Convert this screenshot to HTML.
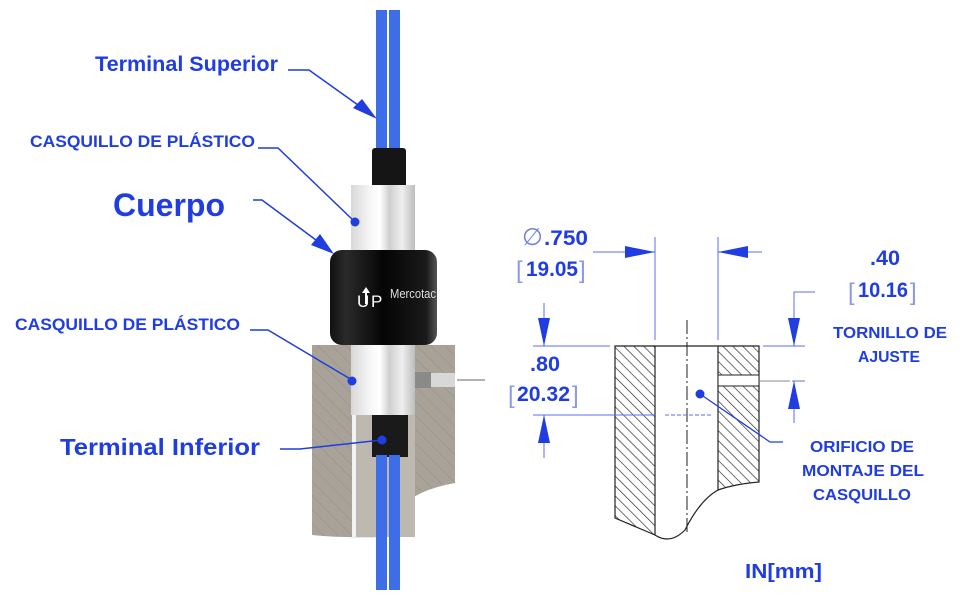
<!DOCTYPE html>
<html><head><meta charset="utf-8"><style>
html,body{margin:0;padding:0;background:#fff;}
svg{display:block;}
text{font-family:"Liberation Sans",sans-serif;font-weight:bold;fill:#1f3de0;}
</style></head><body>
<svg width="976" height="611" viewBox="0 0 976 611" xmlns="http://www.w3.org/2000/svg">
<defs>
<pattern id="h" width="7" height="7" patternUnits="userSpaceOnUse" patternTransform="rotate(-45)">
<rect width="7" height="7" fill="#fff"/><line x1="0" y1="0" x2="0" y2="7" stroke="#222" stroke-width="1.3"/></pattern>
<pattern id="g" width="10" height="10" patternUnits="userSpaceOnUse" patternTransform="rotate(-45)">
<rect width="10" height="10" fill="#a8a298"/><line x1="0" y1="0" x2="0" y2="10" stroke="#948e84" stroke-width="1"/></pattern>
<linearGradient id="silver" x1="0" x2="1">
<stop offset="0" stop-color="#d8d8d8"/><stop offset="0.3" stop-color="#f6f6f6"/><stop offset="0.45" stop-color="#fff"/><stop offset="0.6" stop-color="#cfcfcf"/><stop offset="0.8" stop-color="#eee"/><stop offset="1" stop-color="#bdbdbd"/></linearGradient>
<linearGradient id="blk" x1="0" x2="1">
<stop offset="0" stop-color="#111"/><stop offset="0.15" stop-color="#2a2a2a"/><stop offset="0.5" stop-color="#050505"/><stop offset="0.9" stop-color="#1a1a1a"/><stop offset="1" stop-color="#555"/></linearGradient>
</defs>

<rect x="376" y="10" width="11" height="140" fill="#3d6ee8"/>
<rect x="389" y="10" width="11" height="140" fill="#3d6ee8"/>
<rect x="372" y="148" width="34" height="40" rx="3" fill="#151515"/>
<rect x="351" y="185" width="64" height="70" fill="url(#silver)"/>
<rect x="330" y="250" width="107" height="95" rx="12" fill="url(#blk)"/>
<text x="357" y="307" style="fill:#fff;font-weight:normal;font-size:17px">U</text>
<text x="371" y="307" style="fill:#fff;font-weight:normal;font-size:17px">P</text>
<polygon points="366,287 362,293 370,293" fill="#fff"/>
<rect x="365" y="292" width="2" height="12" fill="#fff"/>
<text x="390" y="298" style="fill:#ddd;font-weight:normal;font-size:13px" textLength="46" lengthAdjust="spacingAndGlyphs">Mercotac</text>
<path d="M312,345 L455,345 L455,483 Q415,490 398,510 L385,537 Q340,538 312,535 Z" fill="url(#g)"/>
<rect x="352" y="415" width="63" height="122" fill="#bdb8b0"/>
<rect x="352" y="415" width="4" height="122" fill="#f3f3f3"/>
<rect x="351" y="345" width="64" height="70" fill="url(#silver)"/>
<rect x="415" y="373" width="40" height="14" fill="#d8d8d8"/>
<rect x="415" y="372" width="16" height="16" fill="#8a8a8a"/>
<line x1="457" y1="380" x2="485" y2="380" stroke="#999" stroke-width="1.5"/>
<rect x="372" y="415" width="36" height="42" fill="#1a1a1a"/>
<rect x="376" y="455" width="11" height="135" fill="#3d6ee8"/>
<rect x="389" y="455" width="11" height="135" fill="#3d6ee8"/>

<g lengthAdjust="spacingAndGlyphs">
<text x="95" y="71" font-size="21" textLength="183" lengthAdjust="spacingAndGlyphs">Terminal Superior</text>
<text x="30" y="147" font-size="17" textLength="225" lengthAdjust="spacingAndGlyphs">CASQUILLO DE PLÁSTICO</text>
<text x="113" y="216" font-size="32" textLength="112" lengthAdjust="spacingAndGlyphs">Cuerpo</text>
<text x="15" y="330" font-size="17" textLength="225" lengthAdjust="spacingAndGlyphs">CASQUILLO DE PLÁSTICO</text>
<text x="60" y="455" font-size="23" textLength="200" lengthAdjust="spacingAndGlyphs">Terminal Inferior</text>
</g>

<g stroke="#1f3de0" stroke-width="1.5" fill="none">
<polyline points="288,70 309,70 365,110"/>
<polyline points="258,148 278,148 355,222"/>
<polyline points="253,200 262,200 320,243"/>
<polyline points="250,330 268,330 352,380"/>
<polyline points="280,449 300,449 382,440"/>
</g>
<polygon points="377,119 353,108 362,99" fill="#1f3de0"/>
<polygon points="334,254 311,245 320,234" fill="#1f3de0"/>
<circle cx="355" cy="222" r="4.5" fill="#1f3de0"/>
<circle cx="352" cy="381" r="4.5" fill="#1f3de0"/>
<circle cx="382" cy="440" r="4.5" fill="#1f3de0"/>

<path d="M615,346 L655,346 L655,535 L615,518 Z" fill="url(#h)" stroke="#222" stroke-width="1.2"/>
<path d="M718,346 L759,346 L759,482 Q735,484 718,490 Z" fill="url(#h)" stroke="#222" stroke-width="1.2"/>
<rect x="718" y="375" width="41" height="11" fill="#fff" stroke="#222" stroke-width="1"/>
<line x1="655" y1="346" x2="718" y2="346" stroke="#222" stroke-width="1.2"/>
<path d="M655,535 Q670,545 685,530 Q700,500 718,490" fill="none" stroke="#222" stroke-width="1.2"/>
<line x1="687" y1="320" x2="687" y2="535" stroke="#222" stroke-width="1" stroke-dasharray="14,3,2,3"/>
<line x1="759" y1="381" x2="790" y2="381" stroke="#888" stroke-width="1"/>

<g stroke="#5a6ef0" stroke-width="1" fill="none">
<line x1="655" y1="237" x2="655" y2="340"/>
<line x1="718" y1="237" x2="718" y2="340"/>
<line x1="593" y1="252" x2="655" y2="252"/>
<line x1="718" y1="252" x2="762" y2="252"/>
<line x1="533" y1="346" x2="610" y2="346"/>
<line x1="533" y1="415" x2="655" y2="415"/>
<line x1="665" y1="415" x2="713" y2="415" stroke-dasharray="4,2"/>
<line x1="544" y1="303" x2="544" y2="346"/>
<line x1="544" y1="415" x2="544" y2="458"/>
<polyline points="815,292 794,292 794,346"/>
<line x1="763" y1="346" x2="805" y2="346"/>
<line x1="794" y1="381" x2="794" y2="423"/>
<line x1="792" y1="381" x2="805" y2="381"/>
<polyline points="700,394 770,442 783,442" stroke="#1f3de0" stroke-width="1.3"/>
</g>
<g fill="#1f3de0">
<polygon points="655,252 625,246 625,258"/>
<polygon points="718,252 748,246 748,258"/>
<polygon points="544,346 538,318 550,318"/>
<polygon points="544,415 538,443 550,443"/>
<polygon points="794,346 788,318 800,318"/>
<polygon points="794,381 788,409 800,409"/>
<circle cx="700" cy="394" r="4.5"/>
</g>

<text x="522" y="245" font-size="24" style="font-weight:normal;fill:#7080e0">∅</text>
<text x="544" y="245" font-size="21" textLength="44" lengthAdjust="spacingAndGlyphs">.750</text>
<text x="516" y="278" font-size="24" style="font-weight:normal;fill:#8a9ae8">[</text>
<text x="526" y="276" font-size="21" textLength="52" lengthAdjust="spacingAndGlyphs">19.05</text>
<text x="579" y="278" font-size="24" style="font-weight:normal;fill:#8a9ae8">]</text>
<text x="530" y="371" font-size="21" textLength="30" lengthAdjust="spacingAndGlyphs">.80</text>
<text x="508" y="403" font-size="24" style="font-weight:normal;fill:#8a9ae8">[</text>
<text x="517" y="401" font-size="21" textLength="53" lengthAdjust="spacingAndGlyphs">20.32</text>
<text x="572" y="403" font-size="24" style="font-weight:normal;fill:#8a9ae8">]</text>
<text x="870" y="265" font-size="21" textLength="30" lengthAdjust="spacingAndGlyphs">.40</text>
<text x="848" y="300" font-size="24" style="font-weight:normal;fill:#8a9ae8">[</text>
<text x="858" y="297" font-size="21" textLength="50" lengthAdjust="spacingAndGlyphs">10.16</text>
<text x="910" y="300" font-size="24" style="font-weight:normal;fill:#8a9ae8">]</text>
<text x="833" y="338" font-size="16" textLength="114" lengthAdjust="spacingAndGlyphs">TORNILLO DE</text>
<text x="858" y="362" font-size="16" textLength="62" lengthAdjust="spacingAndGlyphs">AJUSTE</text>
<text x="810" y="452" font-size="16" textLength="104" lengthAdjust="spacingAndGlyphs">ORIFICIO DE</text>
<text x="802" y="476" font-size="16" textLength="122" lengthAdjust="spacingAndGlyphs">MONTAJE DEL</text>
<text x="813" y="500" font-size="16" textLength="98" lengthAdjust="spacingAndGlyphs">CASQUILLO</text>
<text x="745" y="578" font-size="20" textLength="77" lengthAdjust="spacingAndGlyphs">IN[mm]</text>
</svg>
</body></html>
